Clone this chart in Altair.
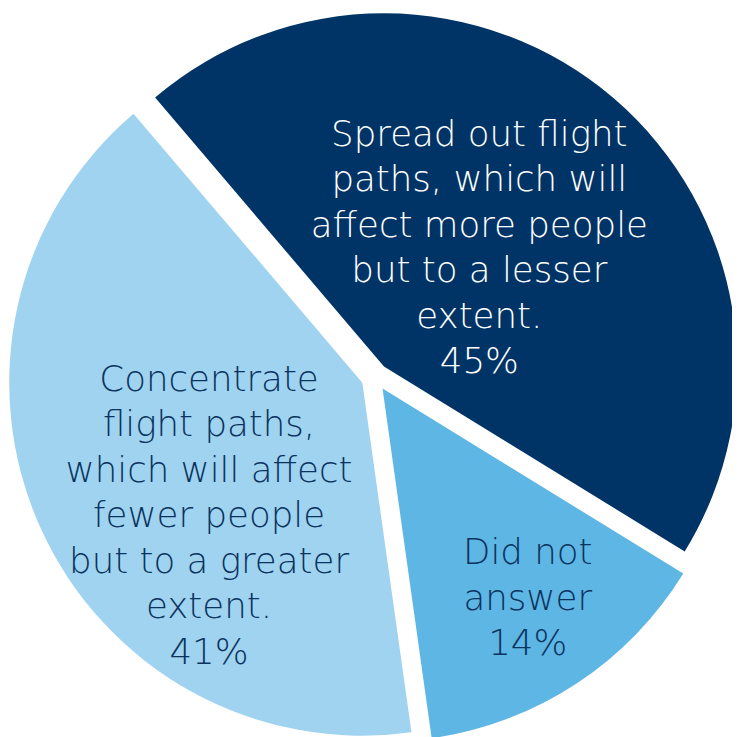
import math
import altair as alt
import pandas as pd

# ---- data ----
categories = [
    "Spread out flight paths, which will affect more people but to a lesser extent.",
    "Did not answer",
    "Concentrate flight paths, which will affect fewer people but to a greater extent.",
]
wrapped = [
    "Spread out flight\npaths, which will\naffect more people\nbut to a lesser\nextent.",
    "Did not\nanswer",
    "Concentrate\nflight paths,\nwhich will affect\nfewer people\nbut to a greater\nextent.",
]
values = [45, 14, 41]

# ---- style / layout ----
colors = ["#003466", "#5EB6E4", "#A0D3EF"]
text_dark = "#0B3360"
START = math.radians(-40.4)   # angle of first slice edge (clockwise from 12 o'clock)
CX, CY = 371, 369             # pie centre inside the view
R = 357                       # outer radius
EXPLODE = 14                  # explosion distance
label_radius = [253, 222, 155]
label_shift = [math.radians(-18.2), math.radians(-8.2), math.radians(25.2)]

df = pd.DataFrame({
    "order": list(range(len(values))),
    "category": categories,
    "wrapped": wrapped,
    "value": values,
})

def by_order(lst):
    expr = str(lst[-1])
    for i in range(len(lst) - 2, -1, -1):
        expr = f"(datum.order == {i} ? {lst[i]} : {expr})"
    return expr

base = (
    alt.Chart(df)
    .transform_joinaggregate(total="sum(value)")
    .transform_stack(stack="value", groupby=[], as_=["v0", "v1"],
                     sort=[alt.SortField("order", order="ascending")])
    .transform_calculate(
        a0=f"{START} + datum.v0 / datum.total * 2 * PI",
        a1=f"{START} + datum.v1 / datum.total * 2 * PI",
    )
    .transform_calculate(am="(datum.a0 + datum.a1) / 2")
    .transform_calculate(
        cx=f"{CX} + {EXPLODE} * sin(datum.am)",
        cy=f"{CY} - {EXPLODE} * cos(datum.am)",
        lr=by_order(label_radius),
        ls=by_order(label_shift),
        label="datum.wrapped + '\\n' + datum.value + '%'",
    )
    .transform_calculate(
        lx="datum.cx + datum.lr * sin(datum.am + datum.ls)",
        ly="datum.cy - datum.lr * cos(datum.am + datum.ls)",
    )
)

arcs = base.mark_arc(outerRadius=R, innerRadius=0).encode(
    theta=alt.Theta("a0:Q", scale=None),
    theta2=alt.Theta2("a1:Q"),
    x=alt.X("cx:Q", scale=None),
    y=alt.Y("cy:Q", scale=None),
    color=alt.Color("category:N", scale=alt.Scale(domain=categories, range=colors), legend=None),
)

texts = base.mark_text(
    font="DejaVu Sans", fontSize=36, fontWeight=200, lineBreak="\n", lineHeight=46,
    align="center", baseline="middle",
).encode(
    x=alt.X("lx:Q", scale=None),
    y=alt.Y("ly:Q", scale=None),
    text=alt.Text("label:N"),
    color=alt.condition(alt.datum.order == 0, alt.value("#FFFFFF"), alt.value(text_dark)),
)

chart = (
    alt.layer(arcs, texts)
    .properties(width=732, height=729, autosize=alt.AutoSizeParams(type="none"), padding=0,
                background="#FFFFFF")
    .configure_view(stroke=None)
)

chart.save("out.html", embed_options={"renderer": "svg", "actions": False})
